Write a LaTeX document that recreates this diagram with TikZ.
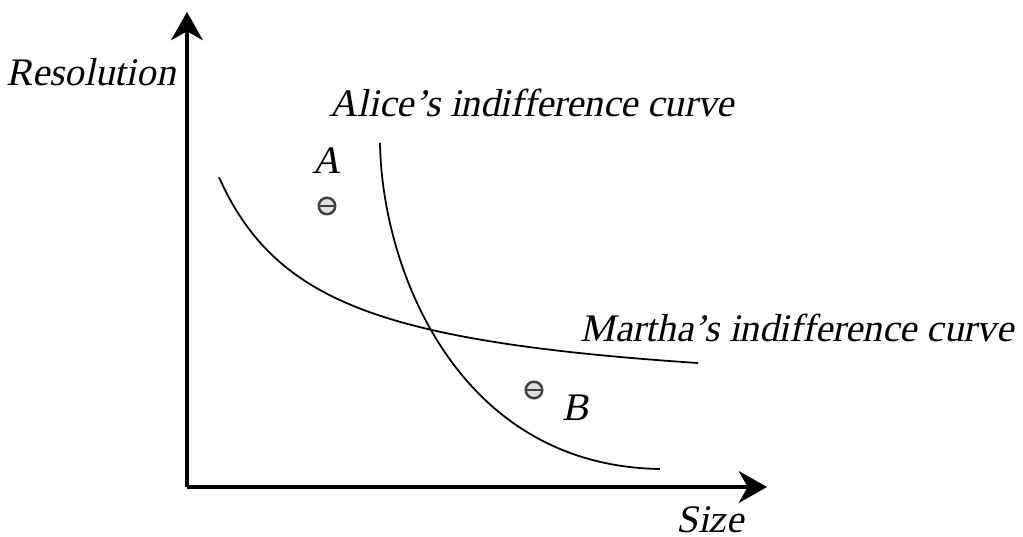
\documentclass[tikz,border=0pt]{standalone}
\usepackage{fontspec}
\setmainfont{Liberation Serif}
\newfontfamily\labelfont{Liberation Serif}[FakeSlant=0.21]
\usetikzlibrary{arrows.meta, positioning}

\begin{document}
\begin{tikzpicture}[
    x=0.01cm, y=-0.01cm,
    axis/.style={line width=1.2pt, -{Stealth[length=8pt, width=9pt, inset=2.5pt]}},
    curve/.style={line width=0.5pt},
    lbl/.style={font=\labelfont\fontsize{11.1}{13}\selectfont, inner sep=0pt},
    bundle/.style={circle, draw=black!75, fill=black!12, line width=0.7pt, minimum size=4.7pt, inner sep=0pt,
        path picture={\draw[black!75, line width=0.7pt] (path picture bounding box.west) -- (path picture bounding box.east);}}
]
\useasboundingbox (0,0) rectangle (1023,537);

% axes
\coordinate (origin) at (187,487);
\coordinate (ytop) at (187,12);
\coordinate (xend) at (767,487);
\draw[axis] (origin) -- (ytop);
\draw[axis] (origin) -- (xend);

\node[lbl] (ylabel) at (91,72) {Resolution};
\node[lbl] (xlabel) at (710,520) {Size};

% indifference curves
\draw[curve, smooth, samples=80, domain=219:698] plot (\x, {401.9 - 225.1/((\x - 118.8)/100)});
\draw[curve] (380,143) .. controls (382,270) and (458,466) .. (660,469);

\node[lbl] (alice) at (532,103) {Alice’s indifference curve};
\node[lbl] (martha) at (797,328) {Martha’s indifference curve};

% bundles
\node[bundle] (ptA) at (327,206) {};
\node[lbl, above=0.22cm of ptA] (labA) {A};
\node[bundle] (ptB) at (534,390) {};
\node[lbl] (labB) at (576,408) {B};

\end{tikzpicture}
\end{document}
